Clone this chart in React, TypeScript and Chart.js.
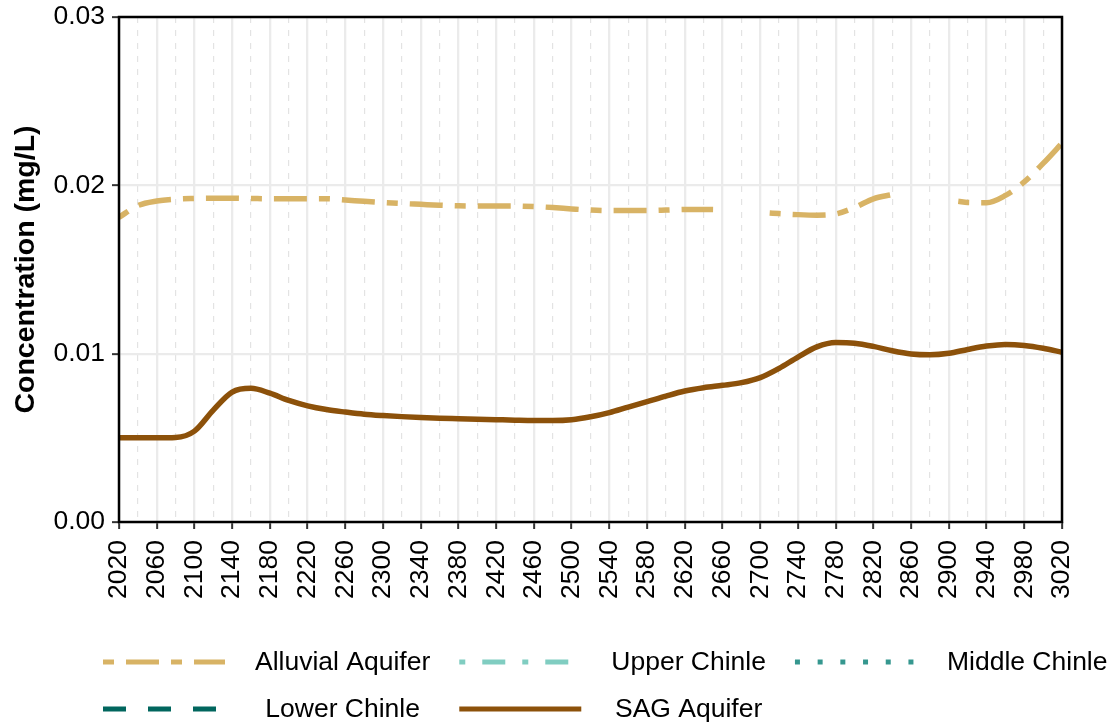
import React, { useEffect, useRef } from "react";
import { Chart, registerables } from "chart.js";

Chart.register(...registerables);

// ---------------- data ----------------
const X_MIN = 2020;
const X_MAX = 3020;
const Y_MIN = 0;
const Y_MAX = 0.03;
const Y_STEP = 0.01;
const X_STEP = 20; // grid every 20 years, labels every 40

const SERIES_NAMES = [
  "Alluvial Aquifer",
  "Upper Chinle",
  "Middle Chinle",
  "Lower Chinle",
  "SAG Aquifer",
];

const ALLUVIAL_YEARS = [
  2020, 2040, 2060, 2080, 2100, 2120, 2140, 2160, 2180, 2200, 2220, 2240, 2260,
  2280, 2300, 2320, 2340, 2360, 2380, 2400, 2420, 2440, 2460, 2480, 2500, 2520,
  2540, 2560, 2580, 2600, 2620, 2640, 2650, 2660, 2700, 2710, 2720, 2740, 2760,
  2780, 2800, 2820, 2840, 2850, 2900, 2910, 2920, 2940, 2960, 2980, 3000, 3020,
];
const ALLUVIAL_VALUES: (number | null)[] = [
  0.0181, 0.0188, 0.01907, 0.01918, 0.01922, 0.01924, 0.01924, 0.01922, 0.0192,
  0.0192, 0.0192, 0.0192, 0.01913, 0.01905, 0.01898, 0.01892, 0.01887, 0.01882,
  0.01878, 0.01877, 0.01877, 0.01877, 0.01874, 0.01868, 0.0186, 0.01853, 0.0185,
  0.0185, 0.0185, 0.01853, 0.01857, 0.01857, 0.01856, null, null, 0.01836,
  0.01832, 0.01826, 0.01823, 0.0183, 0.01868, 0.0192, 0.01945, null, null,
  0.01905, 0.01898, 0.01897, 0.0194, 0.0202, 0.0213, 0.0225,
];

const UPPER_CHINLE_YEARS: number[] = [];
const UPPER_CHINLE_VALUES: (number | null)[] = [];
const MIDDLE_CHINLE_YEARS: number[] = [];
const MIDDLE_CHINLE_VALUES: (number | null)[] = [];
const LOWER_CHINLE_YEARS: number[] = [];
const LOWER_CHINLE_VALUES: (number | null)[] = [];

const SAG_YEARS = [
  2020, 2040, 2060, 2080, 2100, 2120, 2140, 2160, 2180, 2200, 2220, 2240, 2260,
  2280, 2300, 2320, 2340, 2360, 2380, 2400, 2420, 2440, 2460, 2480, 2500, 2520,
  2540, 2560, 2580, 2600, 2620, 2640, 2660, 2680, 2700, 2720, 2740, 2760, 2780,
  2800, 2820, 2840, 2860, 2880, 2900, 2920, 2940, 2960, 2980, 3000, 3020,
];
const SAG_VALUES: (number | null)[] = [
  0.005, 0.005, 0.005, 0.00502, 0.0054, 0.00665, 0.00772, 0.00794, 0.00765,
  0.00722, 0.0069, 0.00668, 0.00653, 0.0064, 0.00632, 0.00626, 0.00621, 0.00617,
  0.00614, 0.00611, 0.00608, 0.00605, 0.00603, 0.00603, 0.00608, 0.00625,
  0.0065, 0.00683, 0.00715, 0.00748, 0.00778, 0.00798, 0.00812, 0.00828,
  0.00858, 0.00913, 0.0098, 0.0104, 0.01066, 0.01062, 0.01043, 0.01017,
  0.00998, 0.00993, 0.01002, 0.01025, 0.01045, 0.01055, 0.01049, 0.01032,
  0.01008,
];

// ---------------- styles ----------------
const SERIES_COLORS = ["#D8B365", "#80CDC1", "#35978F", "#01665E", "#8C510A"];
const SERIES_DASHES = [[11, 12, 33, 12], [6, 17, 23, 17], [5, 17.7], [23, 22], []];
const FONT = '"Liberation Sans", Arial, Helvetica, sans-serif';

const toPoints = (xs: number[], ys: (number | null)[]) =>
  xs.map((x, i) => ({ x, y: ys[i] }));

const isMajor = (v: number) => Math.round(v - X_MIN) % 40 === 0;

const framePlugin = {
  id: "frame",
  afterDatasetsDraw(chart: any) {
    const { ctx, chartArea } = chart;
    ctx.save();
    ctx.strokeStyle = "#000";
    ctx.lineWidth = 2.5;
    ctx.setLineDash([]);
    ctx.strokeRect(
      chartArea.left,
      chartArea.top,
      chartArea.right - chartArea.left,
      chartArea.bottom - chartArea.top
    );
    ctx.restore();
  },
};

const legendPlugin = {
  id: "ggLegend",
  afterDraw(chart: any) {
    const { ctx } = chart;
    const ds = chart.data.datasets;
    const rows = [[0, 1, 2], [3, 4]];
    const rowY = [662, 709];
    const keyW = 122;
    const keyGap = 30;
    const colGap = 29;
    const startX = 103;
    ctx.save();
    ctx.font = `26.5px ${FONT}`;
    const nCols = 3;
    const colW: number[] = [];
    for (let c = 0; c < nCols; c++) {
      let w = 0;
      rows.forEach((r) => {
        if (r[c] !== undefined) w = Math.max(w, ctx.measureText(ds[r[c]].label).width);
      });
      colW.push(w);
    }
    rows.forEach((r, ri) => {
      let x = startX;
      r.forEach((idx, c) => {
        const d = ds[idx];
        const y = rowY[ri];
        ctx.beginPath();
        ctx.strokeStyle = d.borderColor;
        ctx.lineWidth = 5;
        ctx.lineCap = "butt";
        ctx.setLineDash(d.borderDash || []);
        ctx.moveTo(x, y);
        ctx.lineTo(x + keyW, y);
        ctx.stroke();
        ctx.setLineDash([]);
        ctx.fillStyle = "#000";
        ctx.textAlign = "center";
        ctx.textBaseline = "middle";
        ctx.fillText(d.label, x + keyW + keyGap + colW[c] / 2, y + 1);
        x += keyW + keyGap + colW[c] + colGap;
      });
    });
    ctx.restore();
  },
};

export default function App() {
  const canvasRef = useRef<HTMLCanvasElement | null>(null);

  useEffect(() => {
    document.body.style.margin = "0";
    const canvas = canvasRef.current;
    if (!canvas) return;
    const seriesData = [
      toPoints(ALLUVIAL_YEARS, ALLUVIAL_VALUES),
      toPoints(UPPER_CHINLE_YEARS, UPPER_CHINLE_VALUES),
      toPoints(MIDDLE_CHINLE_YEARS, MIDDLE_CHINLE_VALUES),
      toPoints(LOWER_CHINLE_YEARS, LOWER_CHINLE_VALUES),
      toPoints(SAG_YEARS, SAG_VALUES),
    ];
    const chart = new Chart(canvas, {
      type: "line",
      data: {
        datasets: SERIES_NAMES.map((name, i) => ({
          label: name,
          data: seriesData[i],
          borderColor: SERIES_COLORS[i],
          backgroundColor: SERIES_COLORS[i],
          borderDash: SERIES_DASHES[i],
          borderWidth: 5.5,
          borderCapStyle: "butt",
          pointRadius: 0,
          pointHoverRadius: 0,
          fill: false,
          spanGaps: false,
          cubicInterpolationMode: "monotone",
        })),
      },
      options: {
        responsive: false,
        animation: false,
        devicePixelRatio: 1,
        events: [],
        layout: { padding: { left: 0, top: 17, right: 55, bottom: 0 } },
        plugins: {
          legend: { display: false },
          tooltip: { enabled: false },
          title: { display: false },
        },
        scales: {
          x: {
            type: "linear",
            min: X_MIN,
            max: X_MAX,
            afterFit: (scale: any) => {
              scale.height = 205;
              scale.paddingLeft = 0;
              scale.paddingRight = 0;
            },
            ticks: {
              stepSize: X_STEP,
              autoSkip: false,
              maxRotation: 90,
              minRotation: 90,
              padding: 11,
              color: "#000",
              font: { family: FONT, size: 26.5 },
              callback: (v: any) => (isMajor(Number(v)) ? String(v) : ""),
            },
            grid: {
              color: (c: any) =>
                c.tick && isMajor(c.tick.value) ? "#ebebeb" : "#e3e3e3",
              lineWidth: (c: any) => (c.tick && isMajor(c.tick.value) ? 2.3 : 1.2),
              tickColor: (c: any) =>
                c.tick && isMajor(c.tick.value) ? "#333333" : "rgba(0,0,0,0)",
              tickLength: 7,
              tickWidth: 2,
            },
            border: {
              display: false,
              dash: (c: any) =>
                c.tick && !isMajor(c.tick.value) ? [6, 7] : [],
            },
          },
          y: {
            type: "linear",
            min: Y_MIN,
            max: Y_MAX,
            afterFit: (scale: any) => {
              scale.width = 119;
              scale.paddingTop = 0;
              scale.paddingBottom = 0;
            },
            ticks: {
              stepSize: Y_STEP,
              padding: 7,
              color: "#000",
              font: { family: FONT, size: 26.5 },
              callback: (v: any) => Number(v).toFixed(2),
            },
            grid: {
              color: "#ebebeb",
              lineWidth: 2.3,
              tickColor: "#333333",
              tickLength: 7,
              tickWidth: 2,
            },
            border: { display: false },
            title: {
              display: true,
              text: "Concentration (mg/L)",
              color: "#000",
              font: { family: FONT, size: 28.5, weight: "bold" },
              padding: { top: 9, bottom: 0 },
            },
          },
        },
      },
      plugins: [framePlugin, legendPlugin],
    } as any);
    return () => chart.destroy();
  }, []);

  return (
    <div style={{ width: 1117, height: 727, background: "#fff" }}>
      <canvas
        ref={canvasRef}
        width={1117}
        height={727}
        style={{ width: 1117, height: 727, display: "block" }}
      />
    </div>
  );
}
